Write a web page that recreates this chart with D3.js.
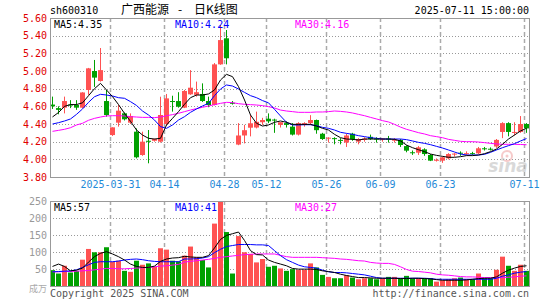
<script src="https://cdn.jsdelivr.net/npm/d3@7/dist/d3.min.js"></script>

<style>
  body { margin: 0; background: #fff; }
  svg text { font-family: "DejaVu Sans Mono", monospace; font-size: 10px; }
</style>

<div id="container"></div>

<script>
// trading days shown (Mar 17 .. Jul 11 2025)
var dates = ["03-17","03-18","03-19","03-20","03-21","03-24","03-25","03-26","03-27","03-28",
  "03-31","04-01","04-02","04-03","04-07","04-08","04-09","04-10","04-11",
  "04-14","04-15","04-16","04-17","04-18","04-21","04-22","04-23","04-24","04-25",
  "04-28","04-29","04-30","05-06","05-07","05-08","05-09",
  "05-12","05-13","05-14","05-15","05-16","05-19","05-20","05-21","05-22","05-23",
  "05-26","05-27","05-28","05-29","05-30","06-03","06-04","06-05","06-06",
  "06-09","06-10","06-11","06-12","06-13","06-16","06-17","06-18","06-19","06-20",
  "06-23","06-24","06-25","06-26","06-27","06-30","07-01","07-02","07-03","07-04",
  "07-07","07-08","07-09","07-10","07-11"];

var open  = [4.62,4.58,4.585,4.62,4.615,4.585,4.785,5.00,4.887,4.66,
  4.275,4.415,4.521,4.415,4.313,4.049,4.21,4.21,4.20,
  4.40,4.66,4.66,4.585,4.736,4.73,4.74,4.66,4.615,5.075,
  5.37,4.64,4.167,4.27,4.358,4.36,4.42,
  4.46,4.45,4.39,4.41,4.37,4.28,4.39,4.41,4.445,4.29,
  4.24,4.24,4.22,4.19,4.29,4.20,4.22,4.255,4.235,
  4.23,4.235,4.215,4.219,4.15,4.08,4.075,4.113,4.049,3.99,
  3.985,4.011,4.06,4.075,4.065,4.07,4.068,4.125,4.12,4.145,
  4.31,4.41,4.30,4.31,4.40];
var high  = [4.71,4.60,4.71,4.67,4.67,4.76,5.035,5.125,5.26,4.785,
  4.362,4.615,4.53,4.52,4.35,4.313,4.332,4.235,4.709,
  4.74,4.72,4.76,4.785,5.01,4.88,4.86,4.71,5.09,5.52,
  5.464,4.66,4.41,4.39,4.50,4.54,4.47,
  4.52,4.46,4.42,4.43,4.41,4.42,4.42,4.50,4.45,4.30,
  4.25,4.25,4.24,4.29,4.30,4.24,4.25,4.28,4.25,
  4.24,4.265,4.24,4.23,4.16,4.10,4.15,4.125,4.06,4.01,
  4.03,4.07,4.07,4.09,4.09,4.085,4.14,4.14,4.135,4.23,
  4.42,4.42,4.42,4.49,4.41];
var low   = [4.57,4.51,4.52,4.58,4.56,4.58,4.73,4.82,4.88,4.483,
  4.265,4.37,4.44,4.40,4.01,4.04,3.955,4.20,4.19,
  4.38,4.54,4.585,4.58,4.73,4.71,4.65,4.59,4.61,5.07,
  5.075,4.62,4.16,4.18,4.26,4.35,4.39,
  4.41,4.30,4.36,4.36,4.27,4.27,4.37,4.39,4.29,4.22,
  4.19,4.17,4.17,4.14,4.21,4.17,4.20,4.22,4.19,
  4.20,4.19,4.19,4.14,4.08,4.05,4.05,4.04,3.98,3.975,
  3.96,4.00,4.03,4.04,4.05,4.05,4.06,4.10,4.10,4.13,
  4.24,4.26,4.27,4.30,4.30];
var close = [4.60,4.56,4.66,4.615,4.585,4.757,5.03,4.925,5.01,4.502,
  4.362,4.551,4.453,4.491,4.023,4.20,4.20,4.23,4.502,
  4.69,4.653,4.596,4.774,4.811,4.76,4.66,4.615,5.075,5.35,
  5.144,4.63,4.27,4.33,4.408,4.425,4.445,
  4.43,4.44,4.42,4.39,4.28,4.41,4.41,4.445,4.33,4.23,
  4.245,4.23,4.21,4.27,4.23,4.23,4.235,4.23,4.23,
  4.235,4.227,4.222,4.162,4.098,4.075,4.136,4.06,3.985,3.995,
  4.023,4.06,4.065,4.07,4.07,4.065,4.125,4.12,4.113,4.22,
  4.41,4.31,4.31,4.40,4.35];

// price moving averages
var ma5 = [4.48,4.53,4.60,4.62,4.62,4.64,4.72,4.80,4.86,4.785,
  4.71,4.62,4.52,4.43,4.332,4.275,4.238,4.23,4.238,
  4.389,4.464,4.54,4.623,4.698,4.728,4.728,4.74,4.785,4.898,
  4.962,4.936,4.823,4.672,4.502,4.408,4.377,
  4.389,4.419,4.434,4.419,4.396,4.396,4.396,4.396,4.377,4.351,
  4.332,4.283,4.245,4.23,4.226,4.219,4.23,4.23,4.23,
  4.23,4.23,4.226,4.208,4.162,4.132,4.109,4.087,4.06,4.045,
  4.034,4.023,4.023,4.030,4.042,4.042,4.049,4.064,4.087,4.117,
  4.17,4.23,4.275,4.321,4.351];
var ma10 = [4.40,4.415,4.434,4.457,4.509,4.57,4.645,4.709,4.736,4.728,
  4.717,4.698,4.691,4.653,4.61,4.547,4.502,4.445,4.37,
  4.351,4.389,4.445,4.483,4.532,4.57,4.604,4.634,4.721,4.796,
  4.842,4.83,4.796,4.758,4.721,4.698,4.665,
  4.64,4.566,4.491,4.419,4.389,4.389,4.392,4.392,4.381,4.362,
  4.351,4.332,4.306,4.294,4.283,4.268,4.257,4.245,4.238,
  4.23,4.23,4.23,4.23,4.223,4.208,4.192,4.181,4.166,4.147,
  4.128,4.106,4.083,4.06,4.049,4.049,4.049,4.057,4.079,4.106,
  4.132,4.155,4.177,4.208,4.235];
var ma30 = [4.317,4.328,4.34,4.358,4.389,4.408,4.442,4.464,4.479,4.491,
  4.494,4.494,4.491,4.483,4.479,4.475,4.475,4.472,4.479,
  4.494,4.506,4.521,4.54,4.558,4.574,4.589,4.604,4.619,4.634,
  4.645,4.642,4.630,4.623,4.619,4.615,4.608,
  4.596,4.581,4.558,4.547,4.54,4.532,4.532,4.532,4.536,4.536,
  4.54,4.547,4.543,4.536,4.525,4.509,4.494,4.475,4.457,
  4.438,4.423,4.396,4.365,4.34,4.321,4.302,4.287,4.268,4.257,
  4.245,4.226,4.215,4.204,4.2,4.2,4.196,4.189,4.181,4.174,
  4.17,4.17,4.17,4.168,4.165];

// volume (10k lots) and its averages
var volume = [46.6,36.7,59.5,39.7,44.6,77.4,109,99.2,99.2,114,
  71.4,74.4,44.6,41.7,74.4,62.5,66.5,56.5,111,
  107,74.4,72.4,89.3,116,84.3,76.4,54.6,183.5,262,
  158.7,36.7,146.8,99.2,94.2,69.4,79.4,
  56.5,59.5,51.6,44.6,49.6,47.6,47.6,66.5,54.6,32.7,
  26.8,22.8,22.8,31.7,24.8,19.8,22.8,22.8,19.8,
  22.8,26.8,26.8,22.8,29.8,22.8,22.8,22.8,22.8,12.9,
  16.9,19.8,22.8,24.8,19.8,19.8,36.7,22.8,22.8,47.6,
  86.3,59.5,44.6,62.5,44.6];
var vma5 = [57.5,64.5,57.5,44.6,46.6,52.6,70.4,86.3,96.2,101,
  94.2,86.3,76.4,64.5,57.5,54.6,54.6,58.5,72.4,
  79.4,82.3,83.3,87.3,85.3,84.3,84.3,89.3,112,137,
  148.8,153.8,158.7,134,104,92.3,91.3,
  76.4,69.4,64.5,59.5,51.6,49.6,49.6,49.6,48.6,44.6,
  42.6,39.7,34.7,30.8,27.8,24.8,24.8,23.8,22.8,
  22.8,22.8,22.8,21.8,21.8,22.8,22.8,21.8,20.8,18.8,
  16.9,16.9,16.9,16.9,17.9,19.8,21.8,22.8,22.8,26.8,
  37.7,46.6,52.6,57.5,59.5];
var vma10 = [41.7,42.6,43.6,44.6,47.6,54.6,62.5,69.4,71.4,71.4,
  71.4,73.4,76.4,78.4,79.4,77.4,74.4,72.4,71.4,
  71.4,71.4,71.4,79.4,79.4,80.4,82.3,86.3,98.2,108,
  116,119,122,122,122,121,121,
  119,104,89.3,77.4,69.4,61.5,56.5,54.6,52.6,46.6,
  41.7,39.7,39.7,38.7,36.7,34.7,32.7,28.8,24.8,
  22.8,22.8,22.8,22.8,22.8,22.8,22.8,22.8,21.8,19.8,
  19.8,19.8,19.8,19.8,19.8,19.8,19.8,19.8,19.8,22.8,
  28.8,32.7,37.7,40.7,42.6];
var vma30 = [41.7,41.7,42.6,42.6,43.6,44.6,45.6,47.6,49.6,51.6,
  51.6,50.6,50.6,51.6,52.6,53.6,54.6,56.5,58.5,
  59.5,61.5,63.5,70.4,72.4,74.4,76.4,78.4,81.3,84.3,
  86.3,88.3,90.3,92.3,93.3,94.2,94.2,
  94.2,94.2,90.3,86.3,84.3,84.3,84.3,84.3,84.3,83.3,
  82.3,81.3,79.4,78.4,76.4,74.4,73.4,69.4,67.5,
  66.5,66.5,63.5,56.5,48.6,43.6,42.6,40.7,38.7,34.7,
  32.7,31.7,29.8,27.8,26.8,26.8,25.8,24.8,24.8,23.8,
  24.8,25.8,26.8,28.8,29.8];

var priceTicks = [5.60,5.40,5.20,5.00,4.80,4.60,4.40,4.20,4.00,3.80];
var volTicks = [250,200,150,100,50];
var labelDays = ["03-31","04-14","04-28","05-12","05-26","06-09","06-23","07-11"];

var UP = "#ff5252", DOWN = "#00a000";
var left = 50, right = 530;

var svg = d3.select("#container").append("svg")
  .attr("width", 545)
  .attr("height", 300);

var x = d3.scaleLinear().domain([0, dates.length]).range([left, right]);
var y = d3.scaleLinear().domain([3.8, 5.6]).range([177, 18]);
var yv = d3.scaleLinear().domain([0, 250]).range([286, 201]);

var idx = d3.range(dates.length);
var labelIdx = labelDays.map(function(d) { return dates.indexOf(d); });

svg.append("clipPath").attr("id", "clipP")
  .append("rect").attr("x", left).attr("y", 18).attr("width", right - left - 1).attr("height", 159);
svg.append("clipPath").attr("id", "clipV")
  .append("rect").attr("x", left).attr("y", 201).attr("width", right - left - 1).attr("height", 85);

// header
svg.append("text").attr("x", 50).attr("y", 14).text("sh600310");
var cjk = "'Noto Sans CJK SC', sans-serif";
svg.append("text").attr("x", 121).attr("y", 14)
  .style("font-family", cjk).style("font-size", "12px").text("广西能源");
svg.append("text").attr("x", 178).attr("y", 14)
  .style("font-family", cjk).style("font-size", "12px").text("-");
svg.append("text").attr("x", 194).attr("y", 14)
  .style("font-family", cjk).style("font-size", "12px").text("日K线图");
svg.append("text").attr("x", 529).attr("y", 14).attr("text-anchor", "end").text("2025-07-11 15:00:00");

function panel(top, bottom, yscale, ticks, color) {
  // horizontal dotted grid
  svg.append("g").selectAll("line")
    .data(ticks.filter(function(t) { return yscale(t) > top + 1 && yscale(t) < bottom - 1; }))
    .enter().append("line")
      .attr("x1", left).attr("x2", right - 1)
      .attr("y1", function(t) { return Math.round(yscale(t)) + 0.5; })
      .attr("y2", function(t) { return Math.round(yscale(t)) + 0.5; })
      .attr("stroke", "#999").attr("stroke-dasharray", "1,2");
  // vertical dashed lines at date labels
  svg.append("g").selectAll("line")
    .data(labelIdx)
    .enter().append("line")
      .attr("x1", function(i) { return x(i) + 0.5; })
      .attr("x2", function(i) { return x(i) + 0.5; })
      .attr("y1", top).attr("y2", bottom)
      .attr("stroke", "#aaa").attr("stroke-width", 1.5).attr("stroke-dasharray", "4,3");
  // y labels
  var ax = svg.append("g")
    .attr("transform", "translate(47,0)")
    .call(d3.axisLeft(yscale).tickValues(ticks).tickSize(0).tickPadding(0)
      .tickFormat(color == "red" ? d3.format(".2f") : d3.format("d")));
  ax.select(".domain").remove();
  ax.selectAll("text")
    .style("font-family", "'DejaVu Sans Mono', monospace")
    .style("font-size", "10px")
    .attr("fill", color == "red" ? "#e00000" : "#999");
}

panel(18, 177, y, priceTicks, "red");
panel(201, 286, yv, volTicks, "grey");

// x labels
var xa = svg.append("g")
  .attr("transform", "translate(0,181)")
  .call(d3.axisBottom(x).tickValues(labelIdx).tickSize(0).tickPadding(0)
    .tickFormat(function(i) { return i == labelIdx[0] ? "2025-" + dates[i] : dates[i]; }));
xa.select(".domain").remove();
xa.selectAll("text")
  .style("font-family", "'DejaVu Sans Mono', monospace")
  .style("font-size", "10px")
  .attr("fill", "#1f8ad8");

// watermark
var wm = svg.append("g").attr("opacity", 0.55);
wm.append("circle").attr("cx", 507).attr("cy", 156).attr("r", 5)
  .attr("fill", "none").attr("stroke", "#f0a0a0").attr("stroke-width", 2);
wm.append("circle").attr("cx", 507).attr("cy", 156).attr("r", 1.5).attr("fill", "#f0a0a0");
wm.append("text").attr("x", 508).attr("y", 172).attr("text-anchor", "middle")
  .style("font-family", "'DejaVu Sans', sans-serif").style("font-size", "17px")
  .style("font-style", "italic").style("font-weight", "bold")
  .attr("fill", "#bbb").text("sina");

// candles
var cg = svg.append("g").attr("clip-path", "url(#clipP)");
var candle = cg.selectAll("g").data(idx).enter().append("g");
candle.append("line")
  .attr("x1", function(i) { return x(i) + 2.5; })
  .attr("x2", function(i) { return x(i) + 2.5; })
  .attr("y1", function(i) { return y(high[i]); })
  .attr("y2", function(i) { return y(low[i]); })
  .attr("stroke", function(i) { return close[i] >= open[i] ? UP : DOWN; });
candle.append("rect")
  .attr("x", function(i) { return x(i); })
  .attr("width", 5)
  .attr("y", function(i) { return y(Math.max(open[i], close[i])); })
  .attr("height", function(i) { return Math.max(1, Math.abs(y(open[i]) - y(close[i]))); })
  .attr("fill", function(i) { return close[i] >= open[i] ? UP : DOWN; });

// volume bars
var vg = svg.append("g").attr("clip-path", "url(#clipV)");
vg.selectAll("rect").data(idx).enter().append("rect")
  .attr("x", function(i) { return x(i); })
  .attr("width", 5)
  .attr("y", function(i) { return yv(volume[i]); })
  .attr("height", function(i) { return yv(0) - yv(volume[i]); })
  .attr("fill", function(i) { return close[i] >= open[i] ? UP : DOWN; });

function maLine(g, arr, scale, color) {
  var line = d3.line()
    .x(function(i) { return x(i) + 2.5; })
    .y(function(i) { return scale(arr[i]); });
  g.append("path").datum(idx)
    .attr("d", line)
    .attr("fill", "none")
    .attr("stroke", color)
    .attr("stroke-width", 1);
}
maLine(cg, ma30, y, "#ff00ff");
maLine(cg, ma10, y, "#0000ff");
maLine(cg, ma5, y, "#000");
maLine(vg, vma30, yv, "#ff00ff");
maLine(vg, vma10, yv, "#0000ff");
maLine(vg, vma5, yv, "#000");

// borders
svg.append("rect").attr("x", left + 0.5).attr("y", 18.5).attr("width", right - left - 1).attr("height", 159)
  .attr("fill", "none").attr("stroke", "#999");
svg.append("rect").attr("x", left + 0.5).attr("y", 201.5).attr("width", right - left - 1).attr("height", 85)
  .attr("fill", "none").attr("stroke", "#999");

// MA legends
svg.append("text").attr("x", 54).attr("y", 28).attr("fill", "#000").text("MA5:4.35");
svg.append("text").attr("x", 175).attr("y", 28).attr("fill", "#0000ff").text("MA10:4.24");
svg.append("text").attr("x", 295).attr("y", 28).attr("fill", "#ff00ff").text("MA30:4.16");
svg.append("text").attr("x", 54).attr("y", 211).attr("fill", "#000").text("MA5:57");
svg.append("text").attr("x", 175).attr("y", 211).attr("fill", "#0000ff").text("MA10:41");
svg.append("text").attr("x", 295).attr("y", 211).attr("fill", "#ff00ff").text("MA30:27");

// footer
svg.append("text").attr("x", 47).attr("y", 292).attr("text-anchor", "end")
  .style("font-family", "'Noto Sans CJK SC', sans-serif").style("font-size", "9px")
  .attr("fill", "#aaa").text("成万");
svg.append("text").attr("x", 50).attr("y", 297).attr("fill", "#555").text("Copyright 2025 SINA.COM");
svg.append("text").attr("x", 529).attr("y", 297).attr("text-anchor", "end").attr("fill", "#555")
  .text("http://finance.sina.com.cn");
</script>
